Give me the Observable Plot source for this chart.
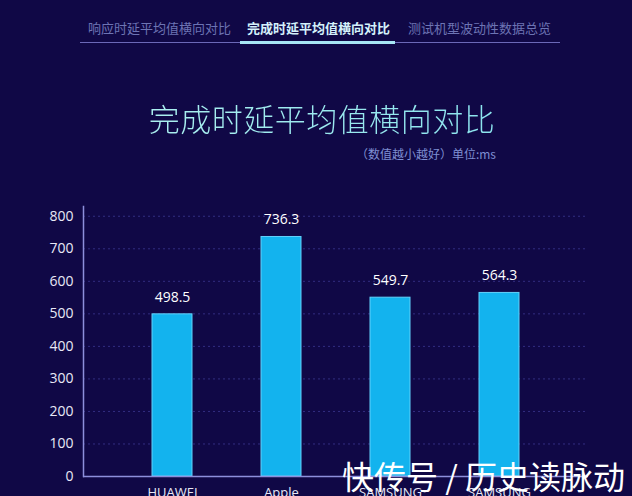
<!DOCTYPE html>
<html><head><meta charset="utf-8">
<script src="https://cdn.jsdelivr.net/npm/d3@7"></script>
<script src="https://cdn.jsdelivr.net/npm/@observablehq/plot@0.6"></script>
<style>
html,body{margin:0;padding:0;width:632px;height:496px;overflow:hidden;background:#100846;font-family:"Noto Sans CJK SC","Noto Sans",sans-serif;}
#wrap{position:relative;width:632px;height:496px;}
.tab{position:absolute;top:18px;font-size:13px;color:#6d74b4;white-space:nowrap;}
.tab.active{color:#d4f1fb;font-weight:bold;}
#tabline{position:absolute;left:80px;top:42px;width:480px;height:1px;background:#6b68b8;}
#tabact{position:absolute;left:240px;top:41px;width:155px;height:3px;background:#a7e6f5;}
#title{position:absolute;left:6px;width:632px;top:95px;text-align:center;font-size:31px;font-weight:300;color:#9fe9ef;letter-spacing:0.5px;
  background:linear-gradient(90deg,#b8f4f0,#7fe0ee);-webkit-background-clip:text;background-clip:text;-webkit-text-fill-color:transparent;}
#sub{position:absolute;right:136px;top:145px;font-size:12px;color:#7f8fd2;white-space:nowrap;}
#chart{position:absolute;left:0;top:196px;}
#wm{position:absolute;left:342px;top:455px;font-size:32px;color:#ffffff;white-space:nowrap;line-height:40px;}
</style></head>
<body><div id="wrap">
<div class="tab" style="left:88px">响应时延平均值横向对比</div>
<div class="tab active" style="left:247px">完成时延平均值横向对比</div>
<div class="tab" style="left:408px">测试机型波动性数据总览</div>
<div id="tabline"></div><div id="tabact"></div>
<div id="title">完成时延平均值横向对比</div>
<div id="sub">（数值越小越好）单位:ms</div>
<div id="chart"></div>
<div id="wm">快传号 / 历史读脉动</div>
</div>
<script>
const ids = ["huawei", "apple", "samsung1", "samsung2"];
const labels = ["HUAWEI", "Apple", "SAMSUNG", "SAMSUNG"];
const values = [498.5, 736.3, 549.7, 564.3];
const yTicks = [0, 100, 200, 300, 400, 500, 600, 700, 800];

const data = ids.map((id, i) => ({id, label: labels[i], value: values[i]}));

const chart = Plot.plot({
  width: 632,
  height: 320,
  marginLeft: 83,
  marginRight: 44,
  marginTop: 10,
  marginBottom: 40,
  style: {background: "transparent", color: "#e8e8f6", fontFamily: "'Open Sans','Noto Sans',sans-serif", fontSize: "14px"},
  x: {domain: ids, paddingInner: 0.636, paddingOuter: 0.618},
  y: {domain: [0, 830]},
  marks: [
    Plot.gridY(yTicks, {stroke: "#3b3790", strokeOpacity: 0.8, strokeDasharray: "2,3"}),
    Plot.barY(data, {x: "id", y: "value", fill: "#13b3ee", stroke: "#63d2fb", strokeWidth: 1}),
    Plot.text(data, {x: "id", y: "value", text: d => d.value.toFixed(1), dy: -17, fill: "#ffffff", fontSize: 14}),
    Plot.axisY({ticks: yTicks, tickSize: 0, tickPadding: 10, label: null, fontSize: 14, fill: "#e8e8f6"}),
    Plot.axisX({tickSize: 0, tickPadding: 11, label: null, fontSize: 13, fill: "#e8e8f6", tickFormat: (d) => labels[ids.indexOf(d)]}),
    Plot.frame({anchor: "left", stroke: "#8d8fdc", strokeWidth: 1.5}),
    Plot.ruleY([0], {stroke: "#8d8fdc", strokeWidth: 1.5})
  ]
});
document.getElementById("chart").appendChild(chart);
</script>
</body></html>
